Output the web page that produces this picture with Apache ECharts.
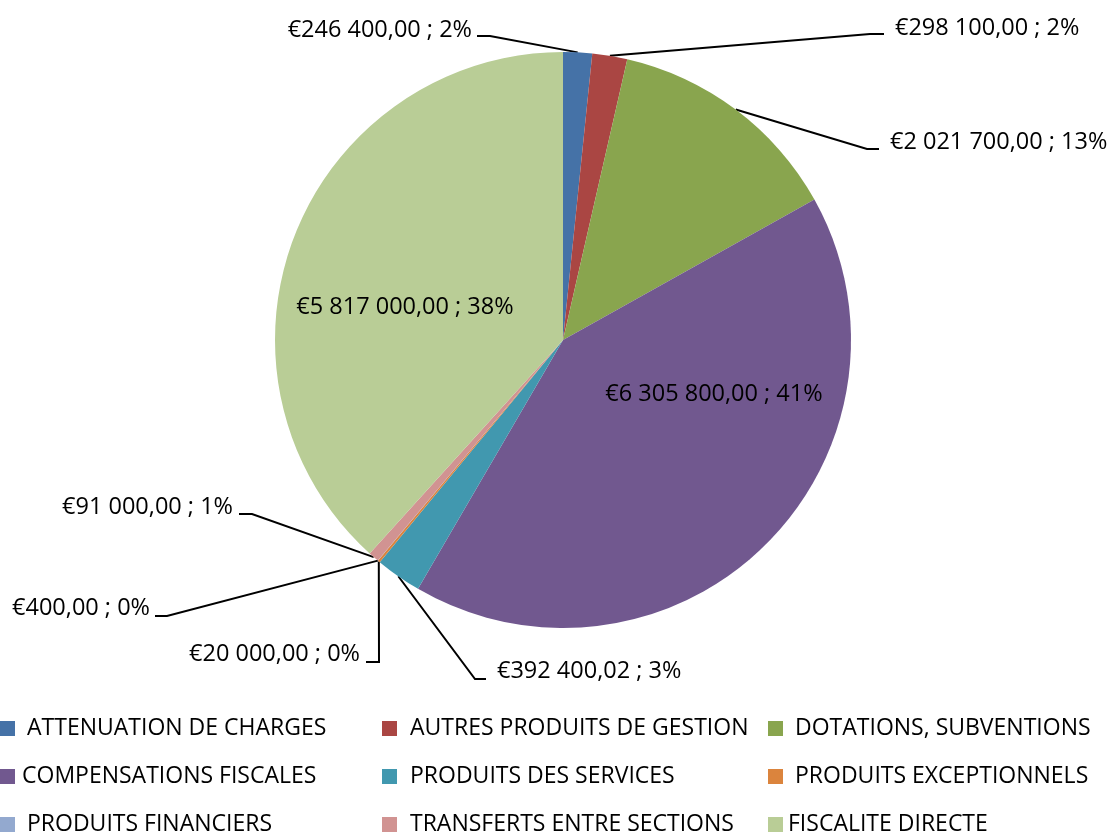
<!DOCTYPE html>
<html>
<head>
<meta charset="utf-8">
<script src="https://cdn.jsdelivr.net/npm/echarts@6/dist/echarts.min.js"></script>
<style>
  html, body { margin: 0; padding: 0; background: #fff; }
  #chart-container { width: 1112px; height: 834px; }
</style>
</head>
<body>
<div id="chart-container"></div>
<script>
const categories = [
  'ATTENUATION DE CHARGES',
  'AUTRES PRODUITS DE GESTION',
  'DOTATIONS, SUBVENTIONS',
  'COMPENSATIONS FISCALES',
  'PRODUITS DES SERVICES',
  'PRODUITS EXCEPTIONNELS',
  'PRODUITS FINANCIERS',
  'TRANSFERTS ENTRE SECTIONS',
  'FISCALITE DIRECTE'
];
const values = [246400, 298100, 2021700, 6305800, 392400.02, 20000, 400, 91000, 5817000];
const colors = ['#4572A7', '#AA4643', '#89A54E', '#71588F', '#4198AF', '#DB843D', '#93A9CF', '#D19392', '#B9CD96'];

const FONT = "'Open Sans', 'Liberation Sans', sans-serif";
const center = [563, 340];
const radius = 288;

// where each data label sits: [x, y, align, elbow x, line y, end x]
const labelSpots = [
  [472, 30, 'right', 490, 36, 477],
  [895, 28, 'left', 870, 34, 884],
  [890, 142, 'left', 867, 149, 879],
  [714, 394, 'center'],
  [497, 671, 'left', 475, 679, 486],
  [360, 654, 'right', 379, 662, 366],
  [150, 608, 'right', 167, 616, 155],
  [233, 507, 'right', 252, 514, 239],
  [405, 307, 'center']
];

// legend grid: 3 columns x 3 rows
const legendCols = [0, 382, 768];
const legendRows = [717, 765, 813];
const legendPads = [7, 8, 7, 2, 8, 7, 7, 8, 0];

const fmtMoney = (v) => {
  const parts = v.toFixed(2).split('.');
  const intPart = parts[0].replace(/\B(?=(\d{3})+(?!\d))/g, ' ');
  return `€${intPart},${parts[1]}`;
};

const total = values.reduce((a, b) => a + b, 0);
// point on the rim at the middle of each slice (clockwise from top)
let acc = 0;
const rimPoints = values.map((v) => {
  const mid = (acc + v / 2) / total * Math.PI * 2;
  acc += v;
  return [center[0] + radius * Math.sin(mid), center[1] - radius * Math.cos(mid)];
});

const pieData = categories.map((name, i) => {
  const inside = labelSpots[i].length === 3;
  return {
    name,
    value: values[i],
    itemStyle: { color: colors[i] },
    labelLine: { show: !inside }
  };
});

const legends = categories.map((name, i) => ({
  orient: 'horizontal',
  left: legendCols[i % 3],
  top: legendRows[Math.floor(i / 3)],
  padding: 0,
  itemWidth: 15,
  itemHeight: 15,
  icon: 'rect',
  textStyle: {
    color: '#000',
    fontSize: 23,
    fontFamily: FONT,
    lineHeight: 20,
    padding: [0, 0, 0, legendPads[i]]
  },
  data: [name]
}));

const dom = document.getElementById('chart-container');
const myChart = window.echarts.init(dom, null, { renderer: 'canvas' });
const option = {
  animation: false,
  legend: legends,
  series: [
    {
      type: 'pie',
      center,
      radius,
      startAngle: 90,
      clockwise: true,
      percentPrecision: 0,
      avoidLabelOverlap: false,
      data: pieData,
      itemStyle: { borderWidth: 0 },
      label: {
        show: true,
        position: 'outside',
        color: '#000',
        fontSize: 23.5,
        fontFamily: FONT,
        formatter: (p) => `${fmtMoney(p.value)} ; ${p.percent}%`
      },
      labelLine: {
        show: true,
        lineStyle: { color: '#000', width: 2 }
      },
      labelLayout: (params) => {
        const s = labelSpots[params.dataIndex];
        const out = { x: s[0], y: s[1], align: s[2], verticalAlign: 'middle' };
        if (s.length > 3) {
          const start = rimPoints[params.dataIndex];
          out.labelLinePoints = [start, [s[3], s[4]], [s[5], s[4]]];
        }
        return out;
      }
    }
  ]
};
myChart.setOption(option);
window.addEventListener('resize', myChart.resize);
</script>
</body>
</html>
